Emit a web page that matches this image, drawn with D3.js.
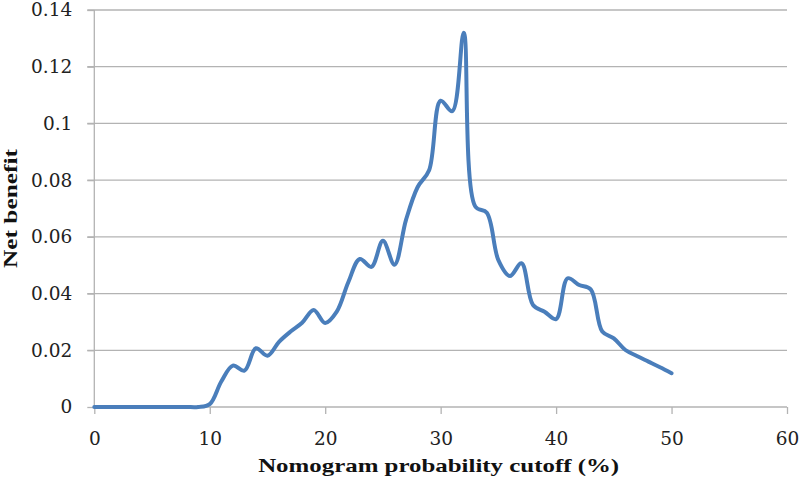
<!DOCTYPE html>
<html><head><meta charset="utf-8">
<script src="https://cdn.jsdelivr.net/npm/d3@7"></script>
<style>body{margin:0;background:#fff}svg{display:block}</style>
</head><body>
<script>
const cutoff = [0,1,2,3,4,5,6,7,8,9,10,11,12,13,14,15,16,17,18,19,20,21,22,23,24,25,26,27,28,29,30,31,32,33,34,35,36,37,38,39,40,41,42,43,44,45,46,47,48,49,50];
const netBenefit = [0,0,0,0,0,0,0,0,0,0,0.001,0.009,0.0146,0.0128,0.0207,0.0181,0.023,0.0266,0.0297,0.0342,0.0296,0.0336,0.044,0.0522,0.0494,0.0586,0.0502,0.066,0.0775,0.0835,0.108,0.1043,0.132,0.0707,0.0685,0.0518,0.0462,0.0507,0.036,0.0336,0.031,0.0454,0.043,0.0415,0.0266,0.0242,0.0201,0.018,0.016,0.014,0.0119];
const xTicks = [0,10,20,30,40,50,60];
const yTicks = [0,0.02,0.04,0.06,0.08,0.1,0.12,0.14];
const xTitle = "Nomogram probability cutoff (%)";
const yTitle = "Net benefit";

const W = 800, H = 486;
const m = {left:94.3, right:13, top:10, bottom:79};
const svg = d3.select("body").append("svg").attr("width",W).attr("height",H);
const x = d3.scaleLinear().domain([0,60]).range([m.left, W-m.right]);
const y = d3.scaleLinear().domain([0,0.14]).range([H-m.bottom, m.top]);
const font = "Liberation Serif, DejaVu Serif, serif";
const tickFont = "DejaVu Serif, serif";
const grid = "#b3b3b3";

// gridlines
svg.append("g").selectAll("line").data(yTicks.filter(d=>d>0)).join("line")
  .attr("x1", x(0)-7).attr("x2", x(60))
  .attr("y1", d=>y(d)).attr("y2", d=>y(d))
  .attr("stroke", grid).attr("stroke-width",1.3);

// y axis
const ya = svg.append("g").attr("transform",`translate(${x(0)},0)`)
  .call(d3.axisLeft(y).tickValues(yTicks).tickSize(7).tickPadding(15).tickFormat(d=>d===0?"0":String(+d.toFixed(2))));
ya.select(".domain").attr("stroke",grid).attr("stroke-width",1.3).attr("d",`M0,${y(0)}V${y(0.14)}`);
ya.selectAll(".tick line").attr("stroke",grid).attr("stroke-width",1.3);
ya.selectAll("text").attr("font-family",tickFont).attr("font-size",18.5).attr("fill","#222");

// x axis
const xa = svg.append("g").attr("transform",`translate(0,${y(0)})`)
  .call(d3.axisBottom(x).tickValues(xTicks).tickSize(7).tickPadding(18).tickFormat(d3.format("d")));
xa.select(".domain").attr("stroke",grid).attr("stroke-width",1.3).attr("d",`M${x(0)},0H${x(60)}`);
xa.selectAll(".tick line").attr("stroke",grid).attr("stroke-width",1.3);
xa.selectAll("text").attr("font-family",tickFont).attr("font-size",18.5).attr("fill","#222");

// line
const data = cutoff.map((c,i)=>[c, netBenefit[i]]);
svg.append("path").datum(data)
  .attr("fill","none").attr("stroke","#4a7ebb").attr("stroke-width",4)
  .attr("stroke-linejoin","round").attr("stroke-linecap","round")
  .attr("d", d3.line().x(d=>x(d[0])).y(d=>y(d[1])).curve(d3.curveCatmullRom.alpha(0.5)));

// titles
svg.append("text").attr("x",(x(0)+x(60))/2 - 2).attr("y",472)
  .attr("text-anchor","middle").attr("font-family",font).attr("font-weight","bold")
  .attr("font-size",19.5).attr("fill","#111")
  .attr("textLength",361).attr("lengthAdjust","spacingAndGlyphs").text(xTitle);
svg.append("text").attr("transform",`translate(17,${(y(0)+y(0.14))/2}) rotate(-90)`)
  .attr("text-anchor","middle").attr("font-family",font).attr("font-weight","bold")
  .attr("font-size",19.5).attr("fill","#111")
  .attr("textLength",119).attr("lengthAdjust","spacingAndGlyphs").text(yTitle);
</script>
</body></html>
